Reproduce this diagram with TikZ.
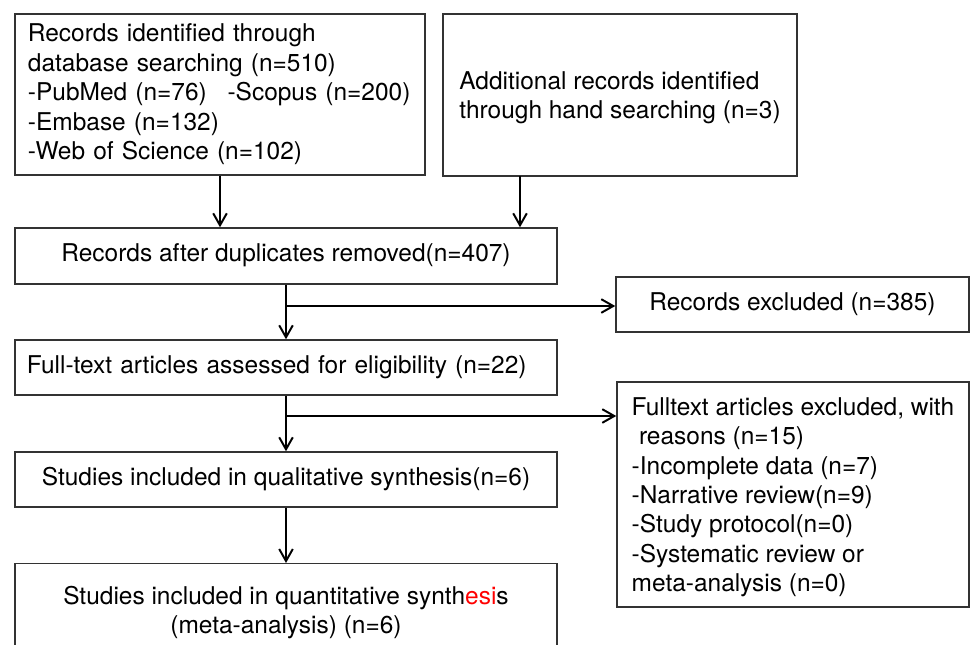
\documentclass[tikz,border=0pt]{standalone}
\usepackage{fontspec}
\setmainfont{TeX Gyre Heros}
\usetikzlibrary{arrows.meta}

\tikzset{
   box/.style={draw=black!80, line width=1pt, rectangle, inner sep=0pt,
      font=\fontsize{17.4}{20.9}\selectfont},
   oneline/.style={box, text height=1.05em, text depth=0.2em},
   multiline/.style={box, align=left, text depth=-0.1em},
   flow/.style={line width=1.4pt, -{Straight Barb[length=0.3cm,width=0.34cm]}},
}

\begin{document}
\begin{tikzpicture}[x=0.025cm, y=-0.025cm]
   
   \useasboundingbox (0,0) rectangle (971,644);
   \clip (0,0) rectangle (971,644);
   
   % identification
   \node[box, align=left, minimum width=10.25cm, minimum height=4.025cm, text width=9.6cm, text height=1.25em] (ident) at (220,94.5)
      {Records identified through\\ database searching (n=510)\\ \mbox{-PubMed (n=76)\hspace{0.85em}-Scopus (n=200)}\\ -Embase (n=132)\\ -Web of Science (n=102)};
   \node[multiline, minimum width=8.85cm, minimum height=4.05cm] (hand) at (620,95)
      {Additional records identified\\ through hand searching (n=3)};
   
   % screening
   \node[oneline, minimum width=13.55cm, minimum height=1.4cm] (dedup) at (286,256) {Records after duplicates removed(n=407)};
   \node[oneline, minimum width=8.825cm, minimum height=1.375cm] (excl) at (792.5,304.5) {Records excluded (n=385)};
   
   % eligibility
   \node[oneline, minimum width=13.55cm, minimum height=1.375cm, text width=12.95cm, align=left] (full) at (286,367.5)
      {Full-text articles assessed for eligibility (n=22)};
   \node[multiline, minimum width=8.8cm, minimum height=5.625cm] (reasons) at (793,494.5)
      {Fulltext articles excluded, with\\ \hspace*{0.3em}reasons (n=15)\\ -Incomplete data (n=7)\\ -Narrative review(n=9)\\ -Study protocol(n=0)\\ -Systematic review or\\ meta-analysis (n=0)};
   
   % included
   \node[oneline, minimum width=13.55cm, minimum height=1.375cm] (qual) at (286,479.5) {Studies included in qualitative synthesis(n=6)};
   \node[box, minimum width=13.55cm, minimum height=2.3cm, align=center, text depth=0pt, anchor=north] (quant) at (286,563)
      {Studies included in quantitative synth\textcolor{red}{esi}s\\ (meta-analysis) (n=6)};
   
   \coordinate (handout) at (520,176);
   \coordinate (split1) at (286,306);
   \coordinate (split2) at (286,416);
   
   \draw[flow] (ident.south) -- (ident.south |- dedup.north);
   \draw[flow] (handout) -- (handout |- dedup.north);
   \draw[flow] (dedup.south) -- (full.north);
   \draw[flow] (split1) -- (split1 -| excl.west);
   \draw[flow] (full.south) -- (qual.north);
   \draw[flow] (split2) -- (split2 -| reasons.west);
   \draw[flow] (qual.south) -- (quant.north);
   
\end{tikzpicture}
\end{document}
